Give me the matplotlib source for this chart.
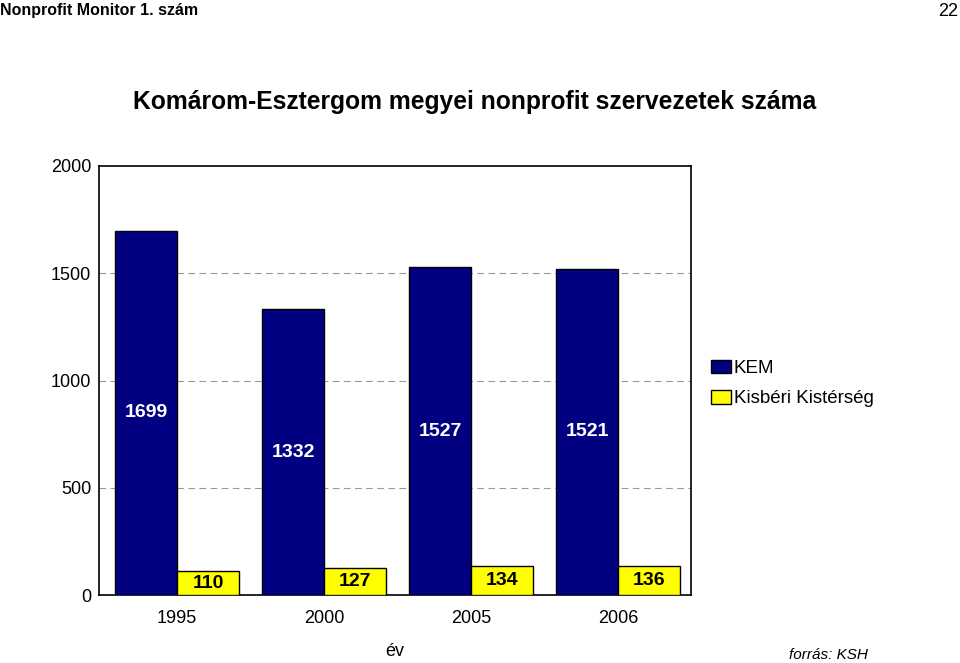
import matplotlib
matplotlib.use("Agg")
import matplotlib.pyplot as plt
import numpy as np
from matplotlib import font_manager

names = {f.name for f in font_manager.fontManager.ttflist}
narrow = 'Liberation Sans Narrow' if 'Liberation Sans Narrow' in names else 'Liberation Sans'
plt.rcParams['font.family'] = [narrow, 'DejaVu Sans']

years = ['1995', '2000', '2005', '2006']
kem = [1699, 1332, 1527, 1521]
kisber = [110, 127, 134, 136]
series_names = ['KEM', 'Kisbéri Kistérség']
yticks = [0, 500, 1000, 1500, 2000]

W, H = 960, 663
fig = plt.figure(figsize=(W/100, H/100), dpi=100)
ax = fig.add_axes([99/W, 68/H, 592/W, 429/H])

x = np.arange(len(years))
unit = 147.0
w = 62/unit
b1 = ax.bar(x - w/2, kem, w, color='#000080', edgecolor='black', linewidth=1, label=series_names[0], zorder=3)
b2 = ax.bar(x + w/2, kisber, w, color='#FFFF00', edgecolor='black', linewidth=1, label=series_names[1], zorder=3)

for rect, v in zip(b1, kem):
    ax.text(rect.get_x() + rect.get_width()/2, v/2, str(v), ha='center', va='center',
            fontsize=14, fontweight='bold', color='white', zorder=4)
for rect, v in zip(b2, kisber):
    ax.text(rect.get_x() + rect.get_width()/2, v/2, str(v), ha='center', va='center',
            fontsize=14, fontweight='bold', color='black', zorder=4)

ax.set_xlim((99 - 177)/unit, (691 - 177)/unit)
ax.set_ylim(0, 2000)
ax.set_yticks(yticks)
ax.set_yticklabels([str(t) for t in yticks], fontsize=13)
ax.set_xticks(x)
ax.set_xticklabels(years, fontsize=13)
ax.tick_params(axis='x', length=0, pad=11)
ax.tick_params(axis='y', length=0, pad=5.5)
for yv in yticks[1:-1]:
    ax.axhline(yv, color='#999999', linestyle=(0, (6, 4)), linewidth=0.8, zorder=1)
for s in ax.spines.values():
    s.set_color('black')
    s.set_linewidth(1.2)

ax.set_xlabel('év', fontsize=13, labelpad=11)

leg = fig.legend(handles=[b1, b2], labels=series_names, loc='upper left',
                 bbox_to_anchor=(703/W, 1 - 352/H), frameon=False, fontsize=13.5,
                 handlelength=1.1, handleheight=0.75, handletextpad=0.15, labelspacing=0.7,
                 borderaxespad=0)

fig.text(475/W, 1 - 102/H, 'Komárom-Esztergom megyei nonprofit szervezetek száma',
         ha='center', va='center', fontsize=17.7, fontweight='bold')
fig.text(0, 1 - 10/H, 'Nonprofit Monitor 1. szám', ha='left', va='center',
         fontsize=11.5, fontweight='bold')
fig.text(958/W, 1 - 11/H, '22', ha='right', va='center', fontsize=13)
fig.text(868/W, 1 - 655/H, 'forrás: KSH', ha='right', va='center', fontsize=11, style='italic')

fig.savefig('out.png', dpi=100)
